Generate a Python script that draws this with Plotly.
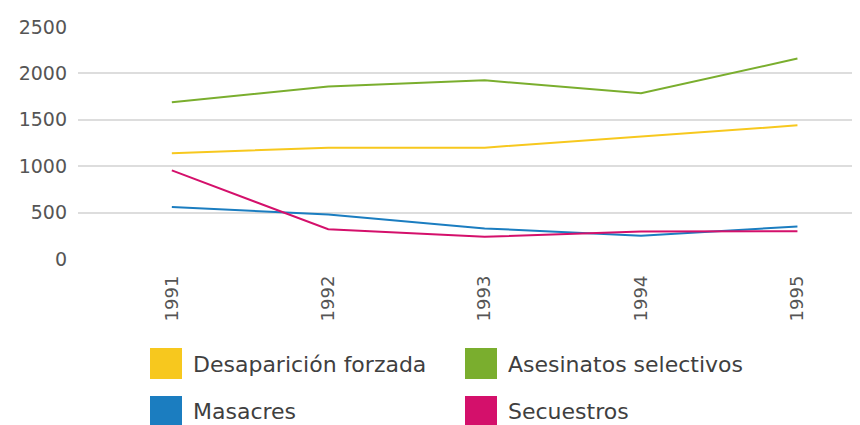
import plotly.graph_objects as go

years = ["1991", "1992", "1993", "1994", "1995"]
desaparicion = [1140, 1200, 1200, 1320, 1440]
asesinatos = [1690, 1860, 1925, 1785, 2160]
masacres = [560, 480, 330, 250, 350]
secuestros = [955, 320, 240, 295, 300]

y_ticks = [0, 500, 1000, 1500, 2000, 2500]

series = [
    ("Desaparición forzada", desaparicion, "#F7C81E"),
    ("Asesinatos selectivos", asesinatos, "#7AAE2E"),
    ("Masacres", masacres, "#1B7DC0"),
    ("Secuestros", secuestros, "#D4106B"),
]

# page offset (body margin) of 8px is compensated in the sizes below
OFF = 8
W, H = 860 - OFF, 425 - OFF
ML, MT = 78 - OFF, 27 - OFF
PW, PH = W - ML, 232
MB = H - MT - PH

fig = go.Figure()
for name, vals, col in series:
    fig.add_trace(go.Scatter(x=years, y=vals, mode="lines", name=name,
                             line=dict(color=col, width=2), showlegend=False))


def px_x(px):
    return (px - OFF - ML) / PW


def px_y(py):
    return (MT + PH - (py - OFF)) / PH


# manual legend (squares + labels), positions given in final page pixels
legend_pos = [(150, 348), (465, 348), (150, 396), (465, 396)]
for (name, vals, col), (lx, ty) in zip(series, legend_pos):
    fig.add_shape(type="rect", xref="paper", yref="paper",
                  x0=px_x(lx), x1=px_x(lx + 32),
                  y0=px_y(ty + 31), y1=px_y(ty),
                  fillcolor=col, line=dict(width=0))
    fig.add_annotation(xref="paper", yref="paper",
                       x=px_x(lx + 41), y=px_y(ty + 16),
                       text=name, showarrow=False, xanchor="left", yanchor="middle",
                       font=dict(family="DejaVu Sans", size=22, color="#3f3f3f"))

fig.update_layout(
    width=W, height=H,
    margin=dict(l=ML, r=0, t=MT, b=MB),
    plot_bgcolor="white", paper_bgcolor="white",
    showlegend=False,
    xaxis=dict(type="category", range=[-0.6, 4.4], showgrid=False, showline=False,
               tickangle=-90, ticks="", ticklen=0, ticklabelstandoff=12,
               tickfont=dict(family="DejaVu Sans", size=18, color="#555555")),
    yaxis=dict(range=[0, 2500], tickvals=y_ticks, showgrid=True, gridcolor="#DDDDDD",
               gridwidth=1.5, zeroline=False, showline=False, ticks="",
               ticklabelstandoff=10,
               tickfont=dict(family="DejaVu Sans", size=19, color="#555555")),
)

fig.write_html("out.html")
